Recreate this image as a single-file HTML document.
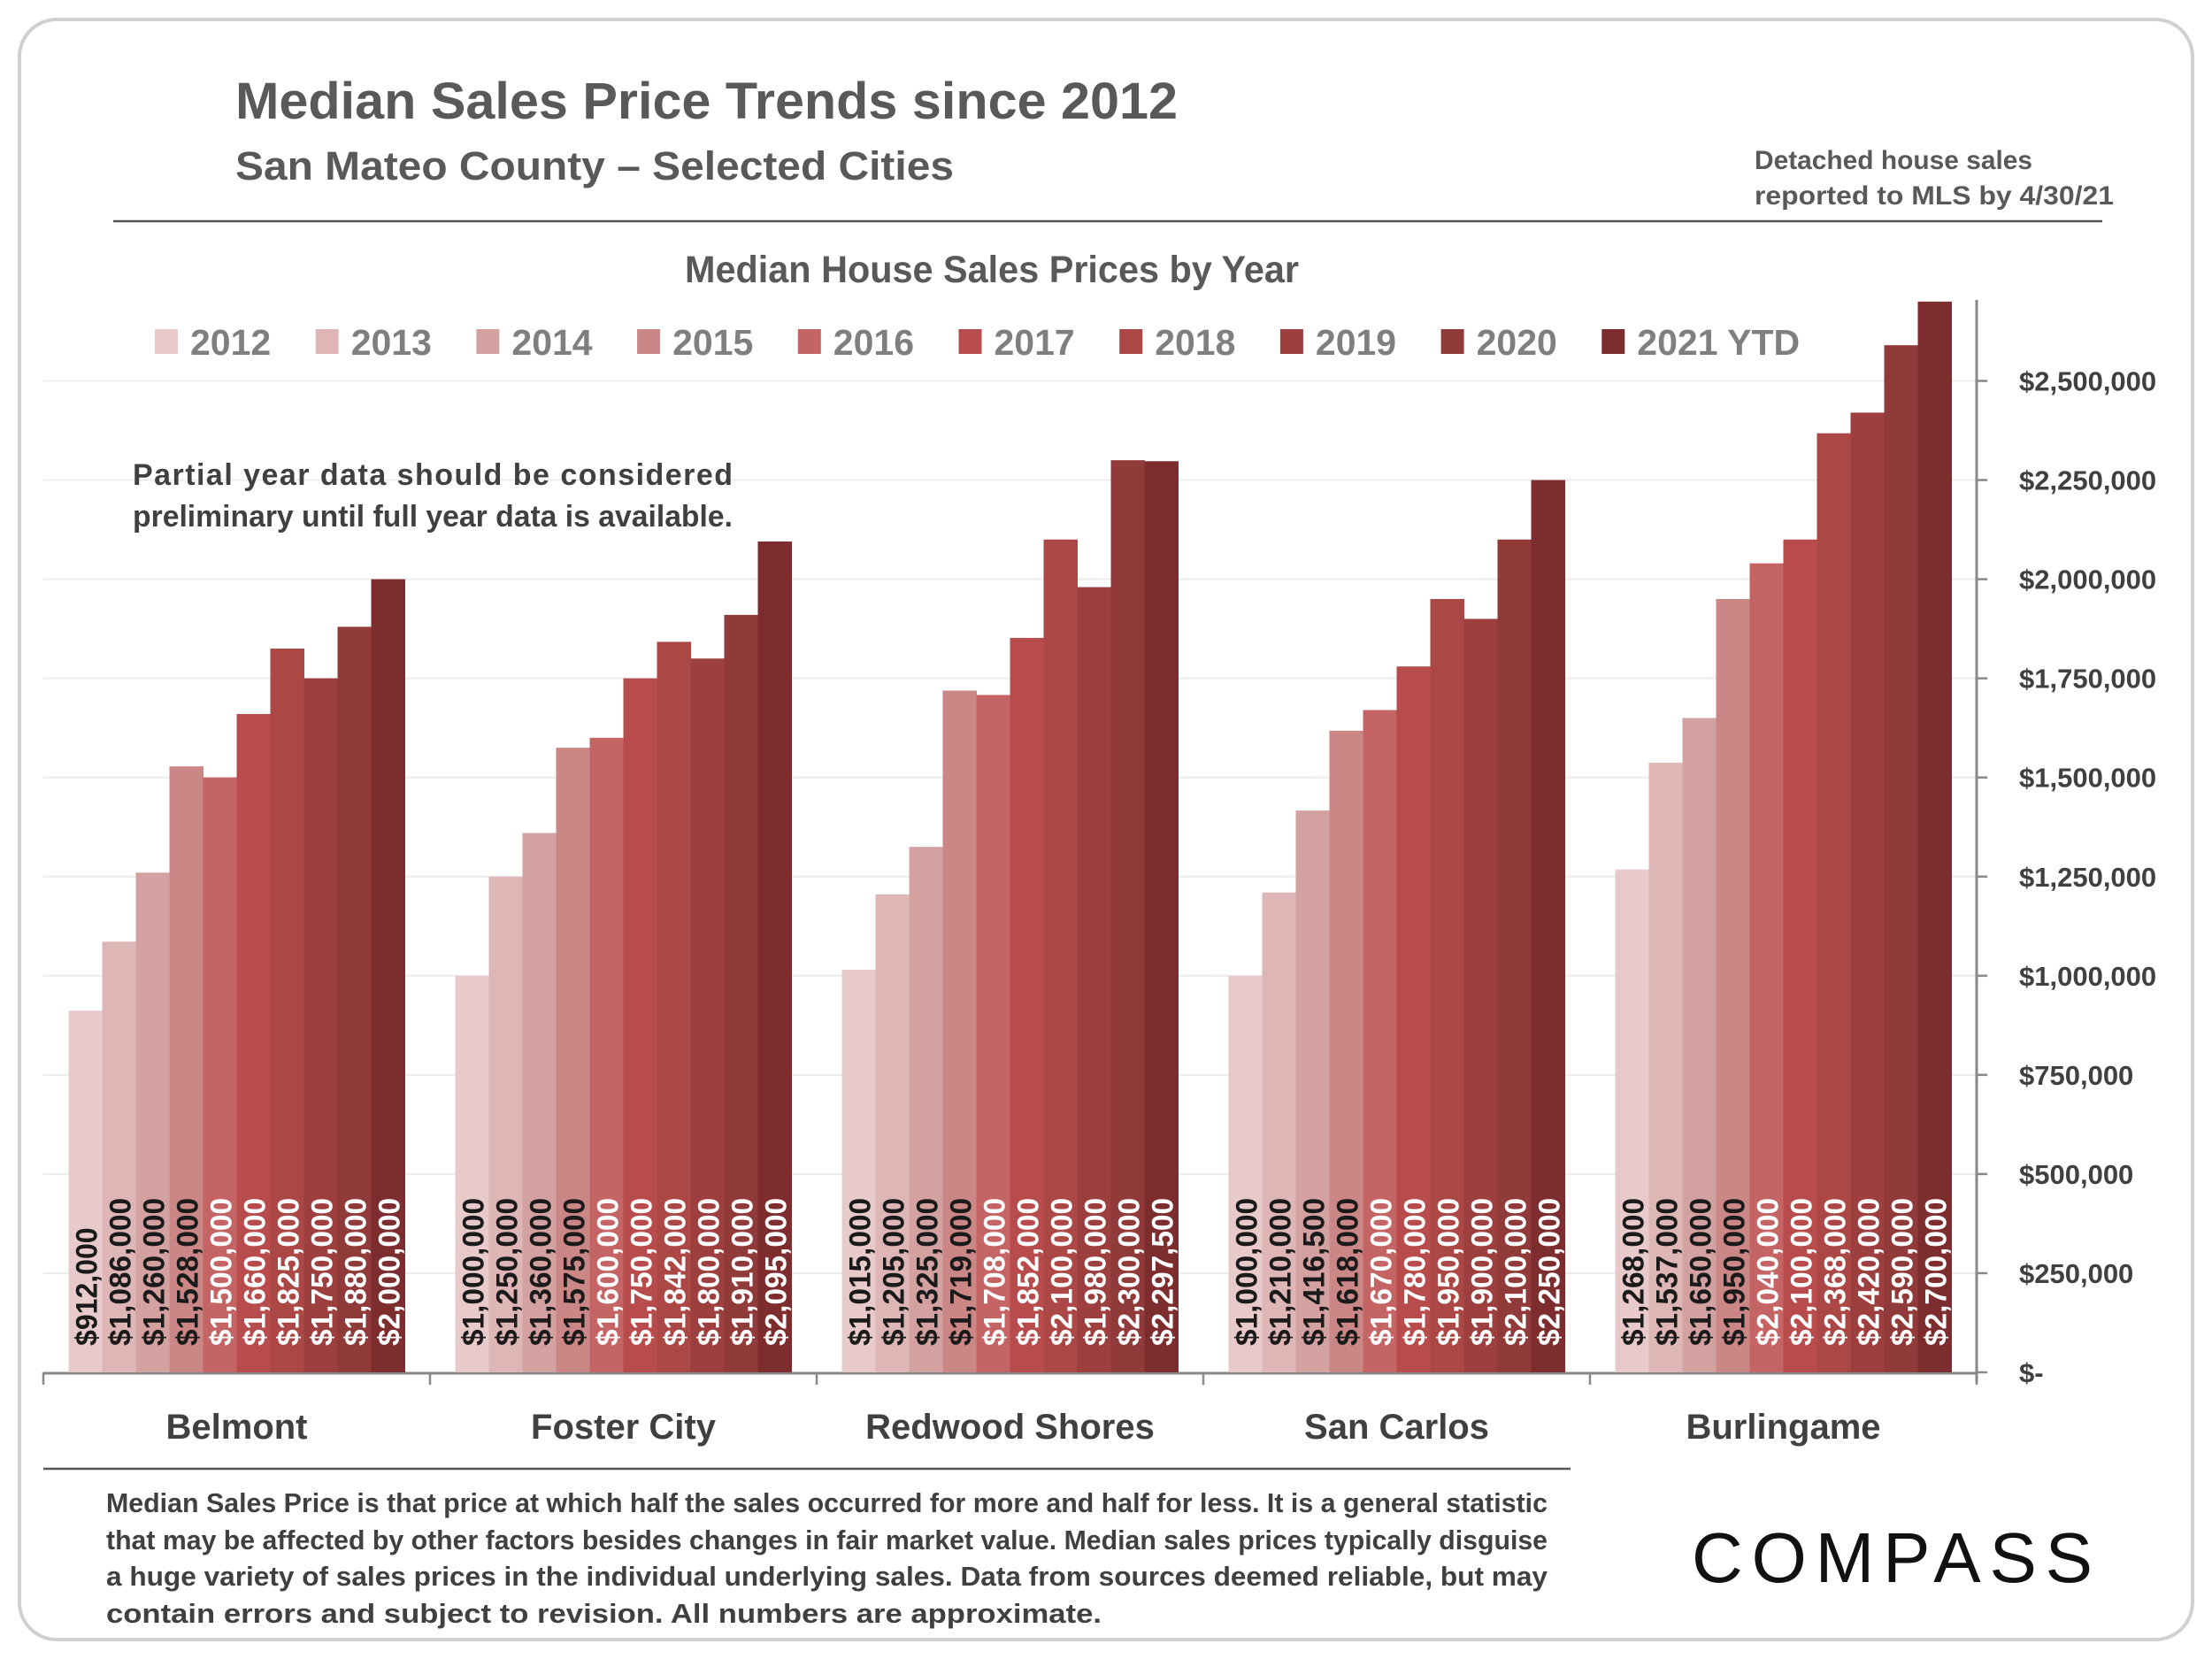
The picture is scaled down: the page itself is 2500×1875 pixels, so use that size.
<!DOCTYPE html>
<html><head><meta charset="utf-8"><style>
html,body{margin:0;padding:0;background:#fff;}
svg{display:block;font-family:"Liberation Sans",sans-serif;}
</style></head><body>
<svg id="chart" width="2500" height="1875" viewBox="0 0 2500 1875" xmlns="http://www.w3.org/2000/svg">
<rect x="22" y="22" width="2456" height="1831" rx="42" fill="#fff" stroke="#d0d0d0" stroke-width="4"/>
<text x="266" y="134" font-size="58" font-weight="bold" fill="#595959" textLength="1065" lengthAdjust="spacingAndGlyphs">Median Sales Price Trends since 2012</text>
<text x="266" y="203" font-size="45" font-weight="bold" fill="#595959" textLength="812" lengthAdjust="spacingAndGlyphs">San Mateo County – Selected Cities</text>
<text x="1983" y="191" font-size="30" font-weight="bold" fill="#595959" textLength="314" lengthAdjust="spacingAndGlyphs">Detached house sales</text>
<text x="1983" y="231" font-size="30" font-weight="bold" fill="#595959" textLength="406" lengthAdjust="spacingAndGlyphs">reported to MLS by 4/30/21</text>
<line x1="128" y1="250" x2="2376" y2="250" stroke="#555" stroke-width="2.5"/>
<text x="1121" y="319" font-size="43" font-weight="bold" fill="#595959" text-anchor="middle" textLength="694" lengthAdjust="spacingAndGlyphs">Median House Sales Prices by Year</text>
<g id="grid"></g>
<g id="bars"></g>
<g id="legend"></g>
<text x="150" y="548" font-size="34" font-weight="bold" fill="#404040" textLength="678" lengthAdjust="spacing">Partial year data should be considered</text>
<text x="150" y="595" font-size="34" font-weight="bold" fill="#404040" textLength="678" lengthAdjust="spacingAndGlyphs">preliminary until full year data is available.</text>
<line x1="49" y1="1660" x2="1775" y2="1660" stroke="#555" stroke-width="2.5"/>
<g font-size="31" font-weight="bold" fill="#404040">
<text x="120" y="1709" textLength="1629" lengthAdjust="spacingAndGlyphs">Median Sales Price is that price at which half the sales occurred for more and half for less. It is a general statistic</text>
<text x="120" y="1751" textLength="1629" lengthAdjust="spacingAndGlyphs">that may be affected by other factors besides changes in fair market value. Median sales prices typically disguise</text>
<text x="120" y="1792" textLength="1629" lengthAdjust="spacingAndGlyphs">a huge variety of sales prices in the individual underlying sales. Data from sources deemed reliable, but may</text>
<text x="120" y="1834" textLength="1125" lengthAdjust="spacingAndGlyphs">contain errors and subject to revision.  All numbers are approximate.</text>
</g>
<text x="1912" y="1788" font-size="80" fill="#111" textLength="453" lengthAdjust="spacing">COMPASS</text>
</svg>
<script>
const categories = ["Belmont","Foster City","Redwood Shores","San Carlos","Burlingame"];
const years = ["2012","2013","2014","2015","2016","2017","2018","2019","2020","2021 YTD"];
const colors = ["#e8caca","#dfb6b6","#d4a1a1","#cb8686","#c46464","#b84c4c","#ab4845","#9d3f3f","#913a3a","#7e2d2f"];
const belmont = [912000,1086000,1260000,1528000,1500000,1660000,1825000,1750000,1880000,2000000];
const fosterCity = [1000000,1250000,1360000,1575000,1600000,1750000,1842000,1800000,1910000,2095000];
const redwoodShores = [1015000,1205000,1325000,1719000,1708000,1852000,2100000,1980000,2300000,2297500];
const sanCarlos = [1000000,1210000,1416500,1618000,1670000,1780000,1950000,1900000,2100000,2250000];
const burlingame = [1268000,1537000,1650000,1950000,2040000,2100000,2368000,2420000,2590000,2700000];
const series = [belmont,fosterCity,redwoodShores,sanCarlos,burlingame];
const tickValues = [0,250000,500000,750000,1000000,1250000,1500000,1750000,2000000,2250000,2500000];
const tickLabels = ["$-","$250,000","$500,000","$750,000","$1,000,000","$1,250,000","$1,500,000","$1,750,000","$2,000,000","$2,250,000","$2,500,000"];

const NS="http://www.w3.org/2000/svg";
const plotL=49, plotR=2234, y0=1551, yTop=339;
const pxPer=(1551-430.5)/2500000;
const yS=v=>y0-v*pxPer;
const groupW=(plotR-plotL)/categories.length;
const barW=38;
function mk(tag,attrs,parent){const e=document.createElementNS(NS,tag);for(const k in attrs)e.setAttribute(k,attrs[k]);parent.appendChild(e);return e;}
const grid=document.getElementById('grid'), bars=document.getElementById('bars'), legend=document.getElementById('legend');

tickValues.forEach((v,i)=>{
  const y=yS(v);
  if(v>0){const gl=mk('line',{x1:plotL,x2:plotR,y1:y,y2:y,stroke:'#ececec','stroke-width':2},grid);
  
  }
  const tk=mk('line',{x1:plotR,x2:plotR+12,y1:y,y2:y,stroke:'#888','stroke-width':2.5},grid);
  
  
  const t=mk('text',{x:2282,y:y+11,'font-size':31,'font-weight':'bold',fill:'#404040'},grid);
  
  
  t.textContent=tickLabels[i];
});
const ax=mk('line',{x1:plotR,x2:plotR,y1:yTop,y2:1562,stroke:'#888','stroke-width':3},grid);


const xa=mk('line',{x1:plotL,x2:plotR,y1:y0+1,y2:y0+1,stroke:'#888','stroke-width':3},grid);


for(let g=0;g<=categories.length;g++){
  const x=plotL+g*groupW;
  const t=mk('line',{x1:x,x2:x,y1:y0,y2:y0+14,stroke:'#888','stroke-width':2.5},grid);
  
  
}
categories.forEach((c,g)=>{
  const gx=plotL+g*groupW+(groupW-barW*years.length)/2;
  series[g].forEach((v,i)=>{
    const x=gx+i*barW, y=yS(v);
    const r=mk('rect',{x:x,y:y,width:barW+0.5,height:y0-y,fill:colors[i]},bars);
    
    
    const cx=x+barW/2+13;
    const t=mk('text',{x:cx,y:1521,transform:`rotate(-90 ${cx} 1521)`,'font-size':34,'font-weight':'bold','font-family':'"Liberation Sans Narrow","Liberation Sans",sans-serif',fill:i<4?'#1a1a1a':'#ffffff'},bars);
    const s='$'+v.toLocaleString('en-US');
    t.setAttribute('textLength',String(s.length*16.7));
    t.setAttribute('lengthAdjust','spacingAndGlyphs');
    
    
    t.textContent=s;
  });
  const lt=mk('text',{x:plotL+g*groupW+groupW/2,y:1626,'font-size':40,'font-weight':'bold',fill:'#404040','text-anchor':'middle'},bars);
  
  
  lt.textContent=c;
});
years.forEach((yr,i)=>{
  const x=175+i*181.7;
  const sq=mk('rect',{x:x,y:372,width:26,height:28,fill:colors[i]},legend);
  
  
  const t=mk('text',{x:x+40,y:401,'font-size':41,'font-weight':'bold',fill:'#7f7f7f'},legend);
  
  
  t.textContent=yr;
});
</script>
</body></html>
